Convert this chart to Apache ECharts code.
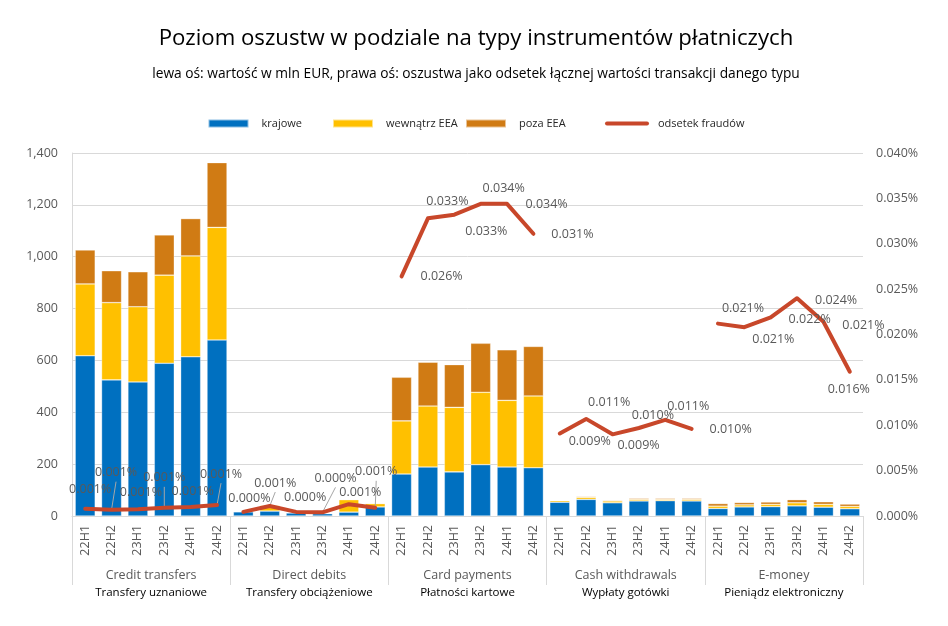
<!DOCTYPE html>
<html>
<head>
<meta charset="utf-8">
<script src="https://cdn.jsdelivr.net/npm/echarts@6/dist/echarts.min.js"></script>
<style>
html,body{margin:0;padding:0;background:#fff;}
#chart{width:948px;height:626px;}
</style>
</head>
<body>
<div id="chart"></div>
<script>
// ---- data ----
var periods = ['22H1','22H2','23H1','23H2','24H1','24H2'];
var groupsEn = ['Credit transfers','Direct debits','Card payments','Cash withdrawals','E-money'];
var groupsPl = ['Transfery uznaniowe','Transfery obciążeniowe','Płatności kartowe','Wypłaty gotówki','Pieniądz elektroniczny'];
var seriesNames = ['krajowe','wewnątrz EEA','poza EEA','odsetek fraudów'];
var leftTicks = [0,200,400,600,800,1000,1200,1400];
var rightTicks = [0,0.005,0.010,0.015,0.020,0.025,0.030,0.035,0.040];

// domestic (mln EUR), per group
var krajowe = [
  [618,525,517,589,614,679],
  [16,19,12,9,15,35],
  [162,189,170,198,189,186],
  [53,64,51,58,59,58],
  [29,35,36,39,34,28]
];
var wewnatrzEEA = [
  [277,298,290,340,389,434],
  [2,22,1,1,48,13],
  [205,235,249,279,257,277],
  [6,8,7,6,5,6],
  [9,8,9,12,11,9]
];
var pozaEEA = [
  [131,123,135,155,144,250],
  [0.5,1,0.5,0.5,1,1],
  [168,169,165,189,195,191],
  [2,3,3,4,4,4],
  [10,9,9,12,10,9]
];
// fraud rate (% of total value)
var odsetek = [
  [0.0008,0.0007,0.00075,0.0009,0.0010,0.0012],
  [0.00045,0.0011,0.00045,0.0004,0.0013,0.0009],
  [0.0264,0.0328,0.0332,0.0344,0.0344,0.0311],
  [0.0091,0.0107,0.0090,0.0097,0.0106,0.0096],
  [0.0212,0.0208,0.0219,0.0240,0.0214,0.0159]
];

// ---- label layout (placement of value labels, px offsets from point) ----
var labelShift = [
  [[5,-19],[4.5,-37],[3,-17],[0,-30],[2,-15],[4,-31]],
  [[6,-13],[5.5,-23],[9,-14],[13,-34],[11.5,-12],[1,-36]],
  [[40,0],[19.5,-16.6],[32,17],[23,-15],[39.5,1],[39,1]],
  [[30,8],[23,-16],[26,11],[14,-13],[23,-13],[39,1]],
  [[25,-15],[29,12],[39,2],[39,2],[40,4],[-1,18]]
];
var leader = [
  [0,1,0,1,0,1],
  [0,1,0,1,0,1],
  [0,0,0,0,0,0],
  [0,0,0,0,0,0],
  [0,0,0,0,0,0]
];

// ---- build ----
var FONT = 'Open Sans';
var catKeys = [];
groupsEn.forEach(function(g, gi){ periods.forEach(function(p){ catKeys.push(gi + '_' + p); }); });
function flat(arr){ var out=[]; arr.forEach(function(a){ out = out.concat(a); }); return out; }

var colors = ['#0070C0','#FFC000','#D07B14'];
var lineColor = '#C8472A';

var series = [];
[krajowe, wewnatrzEEA, pozaEEA].forEach(function(arr, i){
  series.push({
    name: seriesNames[i], type: 'bar', stack: 'v', barWidth: 20,
    xAxisIndex: 0, yAxisIndex: 0,
    itemStyle: {color: colors[i], borderColor: 'rgba(255,255,255,0.55)', borderWidth: 0.6},
    data: flat(arr), z: 2
  });
});
var leaderData = [];
odsetek.forEach(function(vals, gi){
  var data = [];
  for (var k = 0; k < catKeys.length; k++) data.push(null);
  vals.forEach(function(v, j){
    data[gi*6 + j] = v;
    if (leader[gi][j]) leaderData.push([gi*6 + j, v, gi, j]);
  });
  series.push({
    name: seriesNames[3], type: 'line', xAxisIndex: 0, yAxisIndex: 1,
    data: data, symbol: 'circle', symbolSize: 1, showSymbol: true,
    connectNulls: false, z: 5,
    lineStyle: {color: lineColor, width: 4, cap: 'round', join: 'round'},
    itemStyle: {color: lineColor},
    label: {
      show: true, position: 'inside', color: '#595959', fontFamily: FONT, fontSize: 12.5,
      formatter: function(p){ return p.value.toFixed(3) + '%'; }
    },
    labelLayout: (function(g){ return function(params){
      var j = params.dataIndex - g*6;
      var s = labelShift[g][j] || [0,0];
      return {dx: s[0], dy: s[1]};
    }; })(gi),
    emphasis: {disabled: true}
  });
});
// leader lines from point to its moved label
series.push({
  type: 'custom', name: 'leaders', xAxisIndex: 0, yAxisIndex: 1, z: 4, silent: true,
  encode: {x: 0, y: 1},
  data: leaderData,
  renderItem: function(params, api){
    var pt = api.coord([api.value(0), api.value(1)]);
    var s = labelShift[api.value(2)][api.value(3)];
    return {
      type: 'line',
      shape: {x1: pt[0], y1: pt[1], x2: pt[0] + s[0], y2: pt[1] + s[1] + 9},
      style: {stroke: '#a6a6a6', lineWidth: 1}
    };
  }
});

function legendAt(left, name, extra){
  return Object.assign({
    show: true, left: left, top: 118, padding: 0, data: [name], icon: 'rect',
    itemWidth: 40, itemHeight: 8, selectedMode: false,
    textStyle: {fontFamily: FONT, fontSize: 11, color: '#262626', padding: [0,0,0,8]}
  }, extra || {});
}

var option = {
  animation: false,
  backgroundColor: '#fff',
  title: [
    {text: 'Poziom oszustw w podziale na typy instrumentów płatniczych', left: 471, top: 23, textAlign: 'center',
     textStyle: {fontFamily: FONT, fontSize: 22.2, fontWeight: 'normal', color: '#000'}},
    {text: 'lewa oś: wartość w mln EUR, prawa oś: oszustwa jako odsetek łącznej wartości transakcji danego typu', left: 471, top: 62, textAlign: 'center',
     textStyle: {fontFamily: FONT, fontSize: 13.75, fontWeight: 'normal', color: '#000'}}
  ],
  legend: [
    legendAt(207.5, seriesNames[0]),
    legendAt(332, seriesNames[1]),
    legendAt(465, seriesNames[2]),
    legendAt(605, seriesNames[3], {
      icon: 'path://M2,0 L42,0 A2,2 0 0 1 42,4 L2,4 A2,2 0 0 1 2,0 Z',
      itemWidth: 44, itemHeight: 4.5,
      itemStyle: {color: lineColor},
      textStyle: {fontFamily: FONT, fontSize: 11, color: '#262626', padding: [0,0,0,4]}})
  ],
  grid: {left: 72, right: 85, top: 153, bottom: 110, containLabel: false},
  xAxis: [
    {
      type: 'category', data: catKeys, position: 'bottom', boundaryGap: true,
      axisLine: {show: true, lineStyle: {color: '#d9d9d9', width: 1}},
      axisTick: {show: false},
      axisLabel: {interval: 0, rotate: 90, margin: 9, fontFamily: FONT, fontSize: 12.5, color: '#595959',
        formatter: function(v){ return v.split('_')[1]; }},
      splitLine: {show: false}
    },
    {
      type: 'category', data: groupsEn, position: 'bottom', boundaryGap: true,
      axisLine: {show: false},
      axisTick: {show: true, length: 69, interval: 0, lineStyle: {color: '#d9d9d9', width: 1}},
      axisLabel: {interval: 0, margin: 51, fontFamily: FONT,
        formatter: function(v, i){ return '{a|' + v + '}\n{b|' + groupsPl[i] + '}'; },
        rich: {
          a: {fontFamily: FONT, fontSize: 12.5, color: '#595959', lineHeight: 17},
          b: {fontFamily: FONT, fontSize: 11.5, color: '#000', lineHeight: 17}
        }},
      splitLine: {show: false}
    }
  ],
  yAxis: [
    {
      type: 'value', min: leftTicks[0], max: leftTicks[leftTicks.length-1], interval: leftTicks[1]-leftTicks[0],
      axisLine: {show: true, lineStyle: {color: '#d9d9d9'}},
      axisTick: {show: false},
      splitLine: {show: true, lineStyle: {color: '#d9d9d9', width: 1}},
      axisLabel: {margin: 14, fontFamily: FONT, fontSize: 12.5, color: '#595959',
        formatter: function(v){ return v.toLocaleString('en-US'); }}
    },
    {
      type: 'value', position: 'right', min: rightTicks[0], max: rightTicks[rightTicks.length-1], interval: rightTicks[1]-rightTicks[0],
      axisLine: {show: false}, axisTick: {show: false}, splitLine: {show: false},
      axisLabel: {margin: 13, fontFamily: FONT, fontSize: 12.5, color: '#595959',
        formatter: function(v){ return v.toFixed(3) + '%'; }}
    }
  ],
  series: series
};

var chart = echarts.init(document.getElementById('chart'), null, {renderer: 'canvas'});
chart.setOption(option);
</script>
</body>
</html>
